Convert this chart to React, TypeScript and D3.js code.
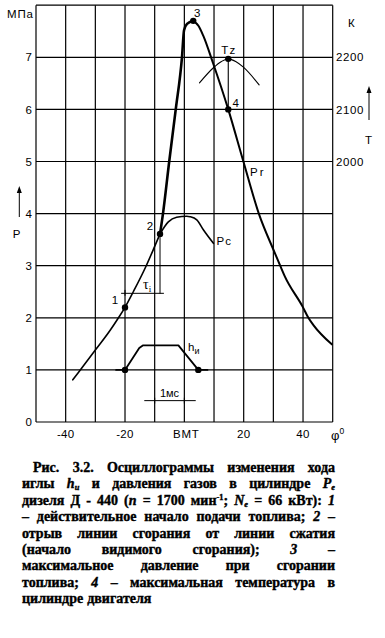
import React, { useEffect, useRef } from "react";
import * as d3 from "d3";

const W = 385;
const H = 638;

// ---------- data ----------
const PHI_TICKS = [-40, -20, 0, 20, 40];
const PHI_TICK_LABELS = ["-40", "-20", "ВМТ", "20", "40"];
const P_TICKS = [0, 1, 2, 3, 4, 5, 6, 7];
const T_TICKS = [2000, 2100, 2200];

// gas pressure, compression part (phi deg, MPa)
const compressionLine: [number, number][] = [
  [-37.6, 0.81], [-34, 1.08], [-30, 1.38], [-25, 1.76], [-22.2, 2.0], [-20, 2.2],
  [-17.2, 2.5], [-13, 2.98], [-10, 3.37], [-8.2, 3.61],
];
// combustion rise (point 2 -> point 3)
const combustionRise: [number, number][] = [
  [-8.2, 3.61], [-7.2, 4.0], [-5.1, 5.0], [-2.9, 6.0], [-0.8, 7.0], [-0.1, 7.52], [0.9, 7.64], [3.0, 7.7],
];
// expansion (point 3 -> end), Pr
const expansionLine: [number, number][] = [
  [3.0, 7.7], [4.8, 7.6], [6.4, 7.41], [9.6, 6.9], [14.8, 6.0], [19.9, 5.0], [25.1, 4.0],
  [30.3, 3.27], [32.3, 3.0], [33.9, 2.79], [39.9, 2.21], [41.8, 2.0], [43.5, 1.86], [49.7, 1.49],
];
// Pc: compression without combustion
const pcLine: [number, number][] = [
  [-8.2, 3.61], [-5.4, 3.84], [-2.6, 3.93], [0.8, 3.95], [1.9, 3.94], [4.2, 3.88], [6.4, 3.69], [9.8, 3.43],
];
// Tz: gas temperature (phi deg, K)
const tzLine: [number, number][] = [
  [5.1, 2151], [9.8, 2180], [12.5, 2192], [14.8, 2197], [17.3, 2192], [19.9, 2181], [25.2, 2147],
];
// needle lift h (drawn on the P scale)
const needleLift: [number, number][] = [
  [-23, 1.0], [-20, 1.0], [-15.2, 1.42], [-14, 1.47], [-2, 1.47], [4.7, 1.0], [7.8, 1.0],
];
const POINT_1: [number, number] = [-20, 2.2];
const POINT_2: [number, number] = [-8.2, 3.61];
const POINT_3: [number, number] = [3.0, 7.7];
const POINT_4: [number, number] = [14.8, 6.0];
const POINT_TZ: [number, number] = [14.8, 2197];
const NEEDLE_POINTS: [number, number][] = [[-20, 1.0], [4.7, 1.0]];
const TAU_SPAN: [number, number] = [-20, -8.2];
const TAU_LEVEL = 2.47;
const MS_SPAN: [number, number] = [-10, 0];
const MS_LEVEL = 0.41;

type Seg = { t: string; i?: boolean; sub?: boolean; sup?: boolean };
type Word = string | Seg[];
const CAPTION: Word[][] = [
  ["Рис.", "3.2.", "Осциллограммы", "изменения", "хода"],
  ["иглы", [{ t: "h", i: true }, { t: "и", i: true, sub: true }], "и", "давления", "газов", "в", "цилиндре", [{ t: "P", i: true }, { t: "е", i: true, sub: true }]],
  ["дизеля", "Д", "-", "440", [{ t: "(" }, { t: "n", i: true }], "=", "1700", [{ t: "мин" }, { t: "-1", sup: true }, { t: ";" }], [{ t: "N", i: true }, { t: "е", i: true, sub: true }], "=", "66", "кВт):", [{ t: "1", i: true }]],
  ["–", "действительное", "начало", "подачи", "топлива;", [{ t: "2", i: true }], "–"],
  ["отрыв", "линии", "сгорания", "от", "линии", "сжатия"],
  ["(начало", "видимого", "сгорания);", [{ t: "3", i: true }], "–"],
  ["максимальное", "давление", "при", "сгорании"],
  ["топлива;", [{ t: "4", i: true }], "–", "максимальная", "температура", "в"],
  ["цилиндре", "двигателя"],
];

// ---------- layout ----------
const x = d3.scaleLinear().domain([-50, 50]).range([36, 332.7]);
const y = d3.scaleLinear().domain([0, 8]).range([422, 5.2]);
const yT = d3.scaleLinear().domain([1500, 2300]).range([422, 5.2]);

const lineP = d3.line<[number, number]>().x((d) => x(d[0])).y((d) => y(d[1])).curve(d3.curveMonotoneX);
const lineT = d3.line<[number, number]>().x((d) => x(d[0])).y((d) => yT(d[1])).curve(d3.curveMonotoneX);
const lineLin = d3.line<[number, number]>().x((d) => x(d[0])).y((d) => y(d[1]));

const SANS = "'Liberation Sans', Arial, sans-serif";
const SERIF = "'Liberation Serif', 'Times New Roman', serif";

const CAP_LEFT = 22;
const CAP_RIGHT = 335;
const CAP_INDENT = 11;
const CAP_Y0 = 472;
const CAP_DY = 16.4;
const CAP_FONT = 14;
const MIN_GAP = 4;

export default function App() {
  const capRef = useRef<SVGGElement>(null);

  useEffect(() => {
    document.body.style.margin = "0";
    const g = d3.select(capRef.current);
    g.selectAll("*").remove();
    CAPTION.forEach((line, li) => {
      const yy = CAP_Y0 + li * CAP_DY;
      const left = li === 0 ? CAP_LEFT + CAP_INDENT : CAP_LEFT;
      const avail = CAP_RIGHT - left;
      const build = (fs: number) => {
        const lg = g.append("g");
        const nodes = line.map((word) => {
          const t = lg
            .append("text")
            .attr("y", yy)
            .attr("font-family", SERIF)
            .attr("font-weight", "bold")
            .attr("font-size", fs)
            .attr("fill", "#000")
            .attr("stroke", "#000")
            .attr("stroke-width", 0.4);
          const segs: Seg[] = typeof word === "string" ? [{ t: word }] : word;
          let shift = 0;
          segs.forEach((s) => {
            const target = s.sub ? 2 : s.sup ? -5 : 0;
            const ts = t.append("tspan").text(s.t).attr("dy", target - shift);
            shift = target;
            if (s.i) ts.attr("font-style", "italic");
            if (s.sub || s.sup) ts.attr("font-size", fs * 0.6);
          });
          return t;
        });
        const widths = nodes.map((n) => (n.node() as SVGTextElement).getComputedTextLength());
        return { lg, nodes, widths };
      };
      let built = build(CAP_FONT);
      let total = d3.sum(built.widths);
      const need = total + MIN_GAP * (built.nodes.length - 1);
      if (need > avail) {
        const fs = (CAP_FONT * (avail - MIN_GAP * (built.nodes.length - 1))) / total;
        built.lg.remove();
        built = build(fs);
        total = d3.sum(built.widths);
      }
      const { nodes, widths } = built;
      const justify = li < CAPTION.length - 1 && nodes.length > 1;
      const gap = justify ? Math.max(MIN_GAP, (avail - total) / (nodes.length - 1)) : 4;
      let cx = left;
      nodes.forEach((n, k) => {
        n.attr("x", cx);
        cx += widths[k] + gap;
      });
    });
  }, []);

  const gridX = d3.range(-50, 51, 10);
  const gridY = d3.range(0, 9, 1);
  const dot = (px: number, py: number, key: string) => <circle key={key} cx={px} cy={py} r={3.2} fill="#000" />;

  return (
    <svg width={W} height={H} style={{ display: "block", background: "#fff" }}>
      {/* grid */}
      <g stroke="#000" strokeWidth={1.2}>
        {gridX.map((v) => (
          <line key={"gx" + v} x1={x(v)} x2={x(v)} y1={y(8)} y2={y(0)} />
        ))}
        {gridY.map((v) => (
          <line key={"gy" + v} x1={x(-50)} x2={x(50)} y1={y(v)} y2={y(v)} />
        ))}
      </g>

      {/* axis labels */}
      <g fontFamily={SANS} fontSize={11.5} fill="#000">
        {P_TICKS.map((v) => (
          <text key={"pl" + v} x={32} y={y(v)} dy="0.36em" textAnchor="end">
            {v}
          </text>
        ))}
        {PHI_TICKS.map((v, i) => (
          <text key={"xl" + v} x={x(v) + (v === 0 ? 2 : 0)} y={438} textAnchor="middle" letterSpacing={v === 0 ? 0.8 : 0.3}>
            {PHI_TICK_LABELS[i]}
          </text>
        ))}
        {T_TICKS.map((v) => (
          <text key={"tl" + v} x={336} y={yT(v)} dy="0.36em" letterSpacing={0.6}>
            {v}
          </text>
        ))}
        <text x={7} y={18} letterSpacing={0.8}>МПа</text>
        <text x={348} y={27}>К</text>
        <text x={16.5} y={238} textAnchor="middle">P</text>
        <text x={368.5} y={144} textAnchor="middle">T</text>
        <text x={331} y={440} fontSize={13}>
          φ<tspan dy={-6} fontSize={8.5}>0</tspan>
        </text>
      </g>

      {/* axis arrows */}
      <g stroke="#000" strokeWidth={1}>
        <line x1={19.3} x2={19.3} y1={217} y2={190} />
        <line x1={369} x2={369} y1={120} y2={90} />
      </g>
      <path d="M19.3,186 L16.8,193 L21.8,193 Z" fill="#000" />
      <path d="M369,86 L366.5,93 L371.5,93 Z" fill="#000" />

      {/* curves */}
      <g fill="none" stroke="#000" strokeLinejoin="round" strokeLinecap="round">
        <path d={lineP(compressionLine) || ""} strokeWidth={1.6} />
        <path d={lineP(combustionRise) || ""} strokeWidth={2.6} />
        <path d={lineP(expansionLine) || ""} strokeWidth={2.0} />
        <path d={lineP(pcLine) || ""} strokeWidth={1.6} />
        <path d={lineT(tzLine) || ""} strokeWidth={1.1} />
        <path d={lineLin(needleLift) || ""} strokeWidth={1.8} />
        {/* Tz -> point 4 */}
        <line x1={x(POINT_TZ[0])} x2={x(POINT_4[0])} y1={yT(POINT_TZ[1])} y2={y(POINT_4[1])} strokeWidth={1.1} />
        {/* tau_i */}
        <line x1={x(POINT_2[0])} x2={x(POINT_2[0])} y1={y(POINT_2[1])} y2={y(TAU_LEVEL)} strokeWidth={1} />
        <line x1={x(TAU_SPAN[0]) - 3.5} x2={x(TAU_SPAN[1]) + 3.5} y1={y(TAU_LEVEL)} y2={y(TAU_LEVEL)} strokeWidth={1} />
        <line x1={x(TAU_SPAN[0])} x2={x(TAU_SPAN[0])} y1={y(TAU_LEVEL) - 3} y2={y(TAU_LEVEL) + 2} strokeWidth={1} />
        {/* 1 ms */}
        <line x1={x(MS_SPAN[0]) - 10} x2={x(MS_SPAN[1]) + 11} y1={y(MS_LEVEL)} y2={y(MS_LEVEL)} strokeWidth={1} />
        <line x1={x(MS_SPAN[0])} x2={x(MS_SPAN[0])} y1={y(MS_LEVEL) - 2.5} y2={y(MS_LEVEL) + 2.5} strokeWidth={1} />
        <line x1={x(MS_SPAN[1])} x2={x(MS_SPAN[1])} y1={y(MS_LEVEL) - 2.5} y2={y(MS_LEVEL) + 2.5} strokeWidth={1} />
      </g>

      {/* points */}
      {dot(x(POINT_1[0]), y(POINT_1[1]), "p1")}
      {dot(x(POINT_2[0]), y(POINT_2[1]), "p2")}
      {dot(x(POINT_3[0]), y(POINT_3[1]), "p3")}
      {dot(x(POINT_4[0]), y(POINT_4[1]), "p4")}
      {dot(x(POINT_TZ[0]), yT(POINT_TZ[1]), "ptz")}
      {NEEDLE_POINTS.map((p, i) => dot(x(p[0]), y(p[1]), "n" + i))}

      {/* curve labels */}
      <g fontFamily={SANS} fontSize={11.5} fill="#000">
        <text x={x(POINT_1[0]) - 10} y={y(POINT_1[1]) - 3.5} textAnchor="middle">1</text>
        <text x={x(POINT_2[0]) - 10} y={y(POINT_2[1]) - 4} textAnchor="middle">2</text>
        <text x={x(POINT_3[0]) + 4} y={y(POINT_3[1]) - 4} textAnchor="middle">3</text>
        <text x={x(POINT_4[0]) + 7.5} y={y(POINT_4[1]) - 2} textAnchor="middle">4</text>
        <text x={x(POINT_TZ[0]) + 0.5} y={yT(POINT_TZ[1]) - 5} textAnchor="middle" letterSpacing={1}>Tz</text>
        <text x={250} y={y(4.72)} letterSpacing={2}>Pr</text>
        <text x={x(pcLine[pcLine.length - 1][0]) + 3} y={y(3.39)} letterSpacing={1.2}>Pc</text>
        <text x={188} y={351}>
          h<tspan dy={3} fontSize={9}>и</tspan>
        </text>
        <text x={143} y={289} fontFamily={SERIF} fontSize={14}>
          τ<tspan dy={3} fontSize={9}>i</tspan>
        </text>
        <text x={(x(MS_SPAN[0]) + x(MS_SPAN[1])) / 2} y={397} textAnchor="middle" fontSize={11}>1мс</text>
      </g>

      <g ref={capRef} />
    </svg>
  );
}
